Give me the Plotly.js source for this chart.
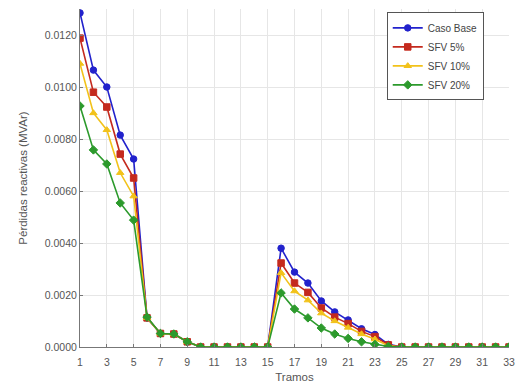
<!DOCTYPE html>
<html><head><meta charset="utf-8">
<script src="https://cdn.plot.ly/plotly-3.0.1.min.js"></script>
<style>body{margin:0;background:#fff}#c{width:523px;height:387px}</style>
</head><body><div id="c"></div>
<script>
const tramos = Array.from({length:33},(_, i)=>i+1);
const casoBase = [0.01285,0.01065,0.0100,0.00815,0.00723,0.00112,0.00052,0.0005,0.0002,0,0,0,0,0,0,0.0038,0.00288,0.00246,0.00177,0.00135,0.00104,0.0007,0.00048,0.0001,0,0,0,0,0,0,0,0,0];
const sfv5 = [0.01188,0.0098,0.00923,0.00742,0.0065,0.00112,0.00052,0.0005,0.0002,0,0,0,0,0,0,0.00323,0.00246,0.0021,0.0015,0.00115,0.0009,0.0006,0.0004,0.00008,0,0,0,0,0,0,0,0,0];
const sfv10 = [0.0109,0.0090,0.00835,0.0067,0.0058,0.00112,0.00052,0.0005,0.0002,0,0,0,0,0,0,0.00285,0.00215,0.0018,0.0013,0.001,0.00075,0.0005,0.0003,0.00005,0,0,0,0,0,0,0,0,0];
const sfv20 = [0.00927,0.00758,0.00704,0.00554,0.00488,0.00115,0.00052,0.0005,0.0002,0,0,0,0,0,0,0.00208,0.00146,0.00112,0.00073,0.0005,0.00033,0.0002,0.0001,0.00002,0,0,0,0,0,0,0,0,0];
const names = ['Caso Base','SFV 5%','SFV 10%','SFV 20%'];
const series = [casoBase,sfv5,sfv10,sfv20];
const colors = ['#2222cc','#c42a1e','#f2c21a','#2c9a2c'];
const symbols = ['circle','square','triangle-up','diamond'];
const xTicks = [1,3,5,7,9,11,13,15,17,19,21,23,25,27,29,31,33];
const yTicks = [0,0.002,0.004,0.006,0.008,0.010,0.012];
const traces = series.map((s,i)=>({
  x: tramos, y: s, name: names[i], type:'scatter', mode:'lines+markers',
  line:{color:colors[i], width:1.6},
  marker:{symbol:symbols[i], size:6.5, color:colors[i], line:{color:colors[i], width:1}}
}));
const layout = {
  width:523, height:387,
  margin:{l:80, r:14, t:9, b:40},
  paper_bgcolor:'#fff', plot_bgcolor:'#fff',
  font:{family:'Liberation Sans, Arial, sans-serif', size:10.5, color:'#555'},
  xaxis:{range:[1,33], tickvals:xTicks, ticktext:xTicks.map(String), showgrid:true, gridcolor:'#e6e6e6',
    zeroline:false, showline:true, linecolor:'#777', ticks:'inside', ticklen:3, tickcolor:'#777',
    ticklabelstandoff:5,
    mirror:false, title:{text:'Tramos', font:{size:11.5, color:'#555'}, standoff:6}},
  yaxis:{range:[0,0.013], tickvals:yTicks, tickformat:'.4f', showgrid:true, gridcolor:'#e6e6e6',
    zeroline:false, showline:true, linecolor:'#777', ticks:'inside', ticklen:3, tickcolor:'#777',
    title:{text:'Pérdidas reactivas (MVAr)', font:{size:11.5, color:'#555'}, standoff:14}},
  legend:{x:0.715, y:0.99, xanchor:'left', yanchor:'top', bgcolor:'#fff', bordercolor:'#555', borderwidth:1,
    font:{size:10, color:'#444'}, tracegroupgap:0},
  showlegend:true
};
Plotly.newPlot('c', traces, layout, {displayModeBar:false, staticPlot:true});
</script></body></html>
